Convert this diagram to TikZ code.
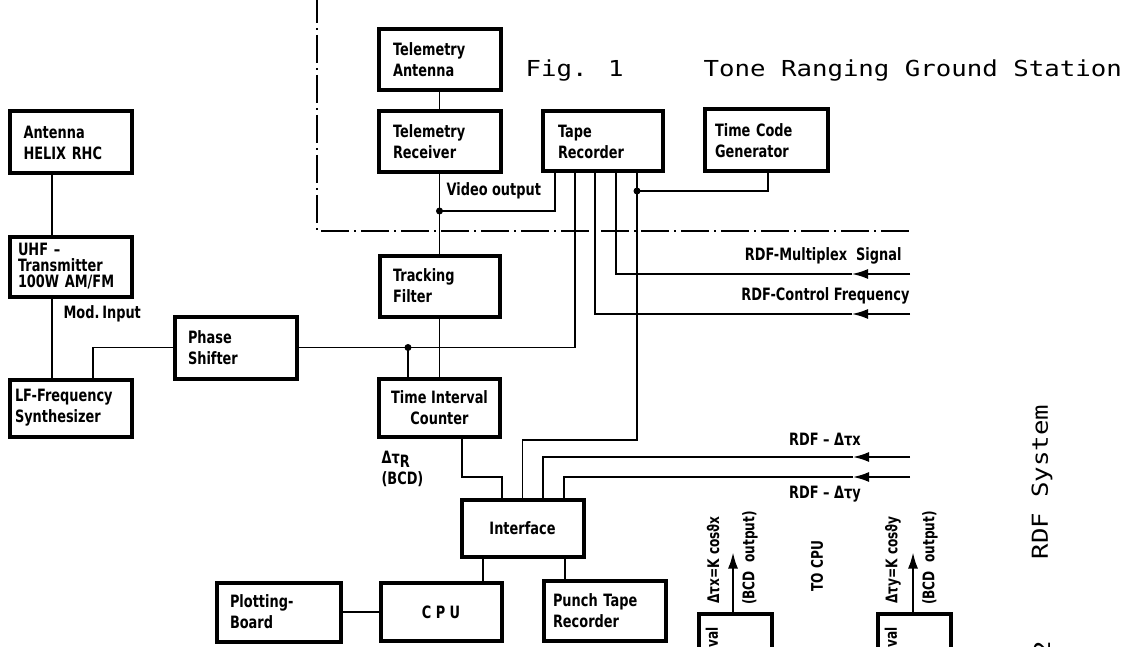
\documentclass[tikz,border=0pt]{standalone}
\usepackage{fontspec}
\usetikzlibrary{arrows.meta}
\newfontfamily\blkfont[FakeStretch=0.76]{DejaVu Sans}
\newfontfamily\plotfont[FakeStretch=1.17]{DejaVu Sans Mono}

\begin{document}
\begin{tikzpicture}[x=1pt, y=-1pt,
  blk/.style={draw, line width=4pt, outer sep=0pt, inner sep=0pt, align=left,
    font=\blkfont\bfseries\fontsize{17}{21}\selectfont},
  wire/.style={line width=1.8pt},
  sig/.style={wire, -{Latex[length=16pt,width=10pt]}},
  lbl/.style={font=\blkfont\bfseries\fontsize{17}{21}\selectfont},
  rlbl/.style={rotate=90, font=\blkfont\bfseries\fontsize{16}{20}\selectfont},
  mono/.style={font=\plotfont\fontsize{22}{26}\selectfont},
  boundary/.style={line width=2.2pt, dash pattern=on 28pt off 5pt on 2pt off 5pt}
]
\useasboundingbox (0,0) rectangle (1129,647);
\clip (0,0) rectangle (1129,647);

% Title
\node[mono, anchor=base west] (fig) at (522,77) {Fig. 1};
\node[mono, anchor=base west] (title) at (700,77) {Tone Ranging Ground Station};

% Left column: transmitter chain
\node[blk, minimum width=122, minimum height=62, text width=94] (ant) at (70.5,142.5) {Antenna\\HELIX RHC};
\node[blk, minimum width=122, minimum height=60, text width=105,
  font=\blkfont\bfseries\fontsize{17}{16}\selectfont] (uhf) at (70.5,266.5) {UHF –\\Transmitter\\100W AM/FM};
\node[blk, minimum width=122, minimum height=57, text width=111] (lf) at (70.5,408) {LF-Frequency\\Synthesizer};
\node[blk, minimum width=122, minimum height=62, text width=95] (ps) at (235.5,347.5) {Phase\\Shifter};

% Telemetry column
\node[blk, minimum width=122, minimum height=61, text width=93] (ta) at (439.5,60) {Telemetry\\Antenna};
\node[blk, minimum width=122, minimum height=61, text width=93] (tr) at (439.5,142) {Telemetry\\Receiver};
\node[blk, minimum width=120, minimum height=61, text width=93] (tf) at (439.5,286) {Tracking\\Filter};
\node[blk, minimum width=121, minimum height=58, align=center] (tic) at (439.5,407.5) {Time Interval\\Counter};

% Recorder and time code
\node[blk, minimum width=120, minimum height=60, text width=89] (tape) at (602.5,141.5) {Tape\\Recorder};
\node[blk, minimum width=123, minimum height=62, text width=102] (tcg) at (766,140.5) {Time Code\\Generator};

% Computer side
\node[blk, minimum width=122, minimum height=57, align=center] (intf) at (522.5,528) {Interface};
\node[blk, minimum width=121, minimum height=58, align=center] (cpu) at (441,612) {C P U};
\node[blk, minimum width=124, minimum height=59, text width=97] (pb) at (278.5,612) {Plotting-\\Board};
\node[blk, minimum width=122, minimum height=60, text width=103] (ptr) at (604.5,610.5) {Punch Tape\\Recorder};

% RDF interval boxes, cut by the page edge
\node[blk, minimum width=73, minimum height=100] (tix) at (735,663.5) {};
\node[blk, minimum width=73, minimum height=100] (tiy) at (914.5,663.5) {};
\node[rlbl, anchor=east] (valx) at (712,624) {val};
\node[rlbl, anchor=east] (valy) at (891,624) {val};

% Labels
\node[lbl, anchor=west] (vid) at (443,191) {Video output};
\node[lbl, anchor=west] (mod) at (60,314) {Mod.\,Input};
\node[lbl, anchor=north west, align=left] (dtr) at (378,448) {Δτ\raisebox{-4pt}{R}\\(BCD)};
\node[lbl, anchor=east] (mpxl) at (905,256) {RDF-Multiplex~~Signal};
\node[lbl, anchor=east] (cfql) at (913,296) {RDF-Control~Frequency};
\node[lbl] (dtxl) at (825,439) {RDF – Δτx};
\node[lbl] (dtyl) at (825,494) {RDF – Δτy};
\node[rlbl] (fx) at (713,560) {Δτx=K cosϑx};
\node[rlbl] (bx) at (750,558) {(BCD~~output)};
\node[rlbl] (tocpu) at (817,566) {TO CPU};
\node[rlbl] (fy) at (893,560) {Δτy=K cosϑy};
\node[rlbl] (by) at (930,558) {(BCD~~output)};
\node[mono, rotate=90] (rdf) at (1042,482) {RDF System};
\node[mono, rotate=90, anchor=east] (fig2) at (1042,637) {2};

% Station boundary
\draw[boundary] (317,-5) -- (317,231) -- (910,231);

% Junctions and signal inputs
\coordinate (jvid) at (439.5,211);
\coordinate (jtc) at (637,191);
\coordinate (jps) at (408,347.5);
\coordinate (mpx) at (910,274);
\coordinate (cfq) at (910,314);
\coordinate (dtx) at (910,457);
\coordinate (dty) at (910,477);

% Wires
\draw[wire] ([xshift=42.5]ant.south west) -- ([xshift=42.5]uhf.north west);
\draw[wire] ([xshift=42.5]uhf.south west) -- ([xshift=42.5]lf.north west);
\draw[wire] (ps.west) -| ([xshift=83.5]lf.north west);
\draw[wire] (ps.east) -| ([xshift=32.5]tape.south west);
\draw[wire] (jps) -- (jps |- tic.north);
\draw[wire] (ta.south) -- (tr.north);
\draw[wire] (tr.south) -- (tf.north);
\draw[wire] (tf.south) -- (tic.north);
\draw[wire] ([xshift=12.5]tape.south west) |- (jvid);
\draw[wire] ([xshift=2]tcg.south) |- (jtc);
\draw[wire] ([xshift=94.5]tape.south west) -- ++(0,268.5) -| (intf.north);
\draw[wire] ([xshift=83]tic.south west) -- ++(0,40.5) -| ([xshift=40.5]intf.north west);

\draw[sig] (mpx) -- ++(-58,0) coordinate (mpxtip);
\draw[wire] (mpxtip) -| ([xshift=73.5]tape.south west);
\draw[sig] (cfq) -- ++(-58,0) coordinate (cfqtip);
\draw[wire] (cfqtip) -| ([xshift=52.5]tape.south west);
\draw[sig] (dtx) -- ++(-57,0) coordinate (dtxtip);
\draw[wire] (dtxtip) -| ([xshift=81.5]intf.north west);
\draw[sig] (dty) -- ++(-57,0) coordinate (dtytip);
\draw[wire] (dtytip) -| ([xshift=102.5]intf.north west);

\draw[wire] ([xshift=21.5]intf.south west) -- ([xshift=102.5]cpu.north west);
\draw[wire] ([xshift=103.5]intf.south west) -- ([xshift=21.5]ptr.north west);
\draw[wire] (pb.east) -- (cpu.west);

\draw[sig] ([xshift=-2]tix.north) -- ++(0,-61);
\draw[sig] ([xshift=-1.5]tiy.north) -- ++(0,-61);

\fill (jvid) circle (3.5);
\fill (jtc) circle (3.5);
\fill (jps) circle (3.5);
\end{tikzpicture}
\end{document}
